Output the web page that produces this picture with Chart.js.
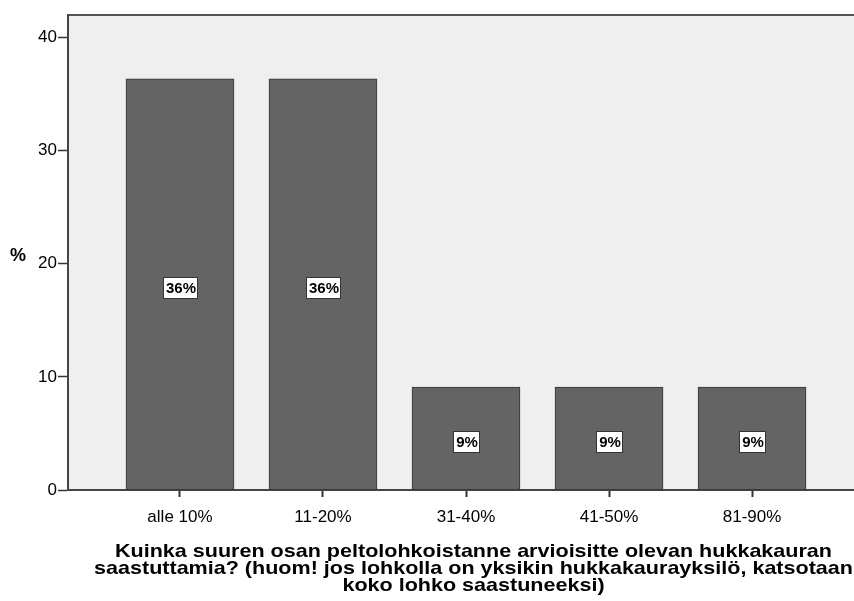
<!DOCTYPE html>
<html>
<head>
<meta charset="utf-8">
<script src="https://cdn.jsdelivr.net/npm/chart.js@4"></script>
<style>
  body { margin: 0; background: #fff; }
  #wrap { width: 854px; height: 601px; }
</style>
</head>
<body>
<div id="wrap"><canvas id="myChart"></canvas></div>
<script>
const categories = ["alle 10%", "11-20%", "31-40%", "41-50%", "81-90%"];
const percents = [36.36, 36.36, 9.09, 9.09, 9.09];
const yTicks = [0, 10, 20, 30, 40];
const xTitle = [
  "Kuinka suuren osan peltolohkoistanne arvioisitte olevan hukkakauran",
  "saastuttamia? (huom! jos lohkolla on yksikin hukkakaurayksilö, katsotaan",
  "koko lohko saastuneeksi)"
];
const yTitle = "%";

const tickFont = { family: "'Liberation Sans', Arial, sans-serif", size: 17 };

// plot background + top border
const plotBg = {
  id: "plotBg",
  beforeDraw(chart) {
    const { ctx, chartArea: a } = chart;
    ctx.save();
    ctx.fillStyle = "#efefef";
    ctx.fillRect(a.left, a.top, a.right - a.left, a.bottom - a.top);
    ctx.strokeStyle = "#555";
    ctx.lineWidth = 2;
    ctx.beginPath();
    ctx.moveTo(a.left, a.top);
    ctx.lineTo(a.right, a.top);
    ctx.stroke();
    ctx.restore();
  }
};

// value boxes, axis titles
const labels = {
  id: "labels",
  afterDatasetsDraw(chart) {
    const { ctx } = chart;
    const yS = chart.scales.y;
    ctx.save();
    ctx.font = "bold 15px 'Liberation Sans', Arial, sans-serif";
    ctx.textAlign = "center";
    ctx.textBaseline = "middle";
    chart.getDatasetMeta(0).data.forEach((bar, i) => {
      const txt = Math.round(percents[i]) + "%";
      const cy = yS.getPixelForValue(percents[i] / 2) + 3;
      const w = Math.round(ctx.measureText(txt).width + 4);
      const h = 21;
      const x0 = Math.round(bar.x - w / 2), y0 = Math.round(cy - h / 2);
      ctx.fillStyle = "#fff";
      ctx.fillRect(x0, y0, w, h);
      ctx.strokeStyle = "#333";
      ctx.lineWidth = 1;
      ctx.strokeRect(x0 + 0.5, y0 + 0.5, w, h);
      ctx.fillStyle = "#000";
      ctx.fillText(txt, bar.x + 1, cy + 1);
    });

    ctx.font = "bold 18px 'Liberation Sans', Arial, sans-serif";
    ctx.fillText(yTitle, 18, 256);

    // x title: the original font is wider, so stretch horizontally
    ctx.font = "bold 19px 'Liberation Sans', Arial, sans-serif";
    ctx.textBaseline = "alphabetic";
    const sx = 717 / ctx.measureText(xTitle[0]).width;
    ctx.translate(473.5, 0);
    ctx.scale(sx, 1);
    xTitle.forEach((line, i) => {
      ctx.fillText(line, 0, 557 + i * 17);
    });
    ctx.restore();
  }
};

const ctx = document.getElementById("myChart").getContext("2d");
const myChart = new Chart(ctx, {
  type: "bar",
  data: {
    datasets: [
      {
        data: percents.map((v, i) => ({ x: i, y: v })),
        backgroundColor: "#646464",
        borderColor: "#333333",
        borderWidth: 1,
        borderSkipped: false,
        barThickness: 108
      }
    ]
  },
  options: {
    responsive: true,
    maintainAspectRatio: false,
    animation: false,
    layout: { padding: { top: 15, left: 0, right: 0, bottom: 0 } },
    plugins: {
      legend: { display: false },
      tooltip: { enabled: false }
    },
    scales: {
      x: {
        type: "linear",
        offset: false,
        min: -0.783,
        max: 4.713,
        afterBuildTicks: (s) => {
          s.ticks = categories.map((c, i) => ({ value: i }));
        },
        afterFit: (s) => { s.height = 111; },
        ticks: {
          autoSkip: false,
          maxRotation: 0,
          color: "#000",
          font: tickFont,
          padding: 10,
          callback: (v) => categories[v] ?? ""
        },
        grid: {
          offset: false,
          drawOnChartArea: false,
          tickLength: 7,
          tickColor: "#333",
          tickWidth: 2
        },
        border: { color: "#444", width: 2 }
      },
      y: {
        min: 0,
        max: 42,
        afterBuildTicks: (s) => {
          s.ticks = yTicks.map((v) => ({ value: v }));
        },
        afterFit: (s) => { s.width = 68; },
        ticks: {
          color: "#000",
          font: tickFont,
          padding: 1
        },
        grid: {
          drawOnChartArea: false,
          tickLength: 10,
          tickColor: "#333",
          tickWidth: 1.5
        },
        border: { color: "#444", width: 2 }
      }
    }
  },
  plugins: [plotBg, labels]
});
</script>
</body>
</html>
